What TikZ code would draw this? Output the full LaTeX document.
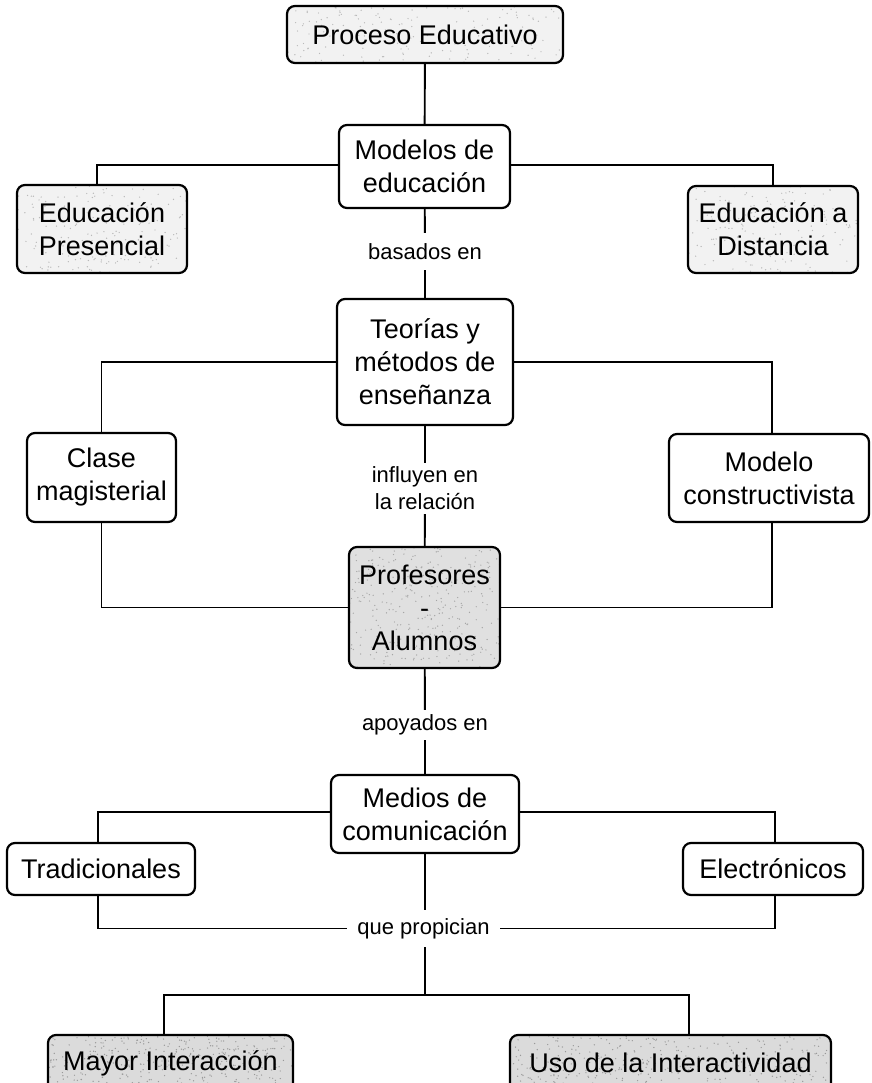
\documentclass[tikz,border=0pt]{standalone}
\usepackage{fontspec}
\setmainfont{Liberation Sans}
\usetikzlibrary{calc}
\begin{document}
\begin{tikzpicture}[x=1pt,y=-1pt,
  speckle/.style n args={2}{path picture={
    \foreach \k in {1,...,#1}{
      \pgfmathsetmacro\ux{rnd}\pgfmathsetmacro\uy{rnd}
      \coordinate (px) at ($(path picture bounding box.south west)!\ux!(path picture bounding box.south east)$);
      \coordinate (py) at ($(path picture bounding box.south west)!\uy!(path picture bounding box.north west)$);
      \fill[#2] (px |- py) circle (0.7pt);
    }}},
  box/.style={draw, line width=2.2pt, rounded corners=8pt, fill=white, align=center,
    font=\fontsize{27}{33}\selectfont, inner sep=0pt},
  light/.style={box, fill=gray!10, speckle={160}{gray!55}},
  mid/.style={box, fill=gray!24, speckle={320}{gray!70}},
  dark/.style={box, fill=gray!28, speckle={380}{gray!80}},
  lbl/.style={align=center, font=\fontsize{22}{27}\selectfont, inner sep=0pt},
  conn/.style={line width=1.9pt}]
\pgfmathsetseed{7}
\useasboundingbox (0,0) rectangle (871,1083);
% boxes
\node[light, minimum width=276pt, minimum height=57pt] (proc) at (425,34.5) {Proceso Educativo};
\node[box, minimum width=171pt, minimum height=83pt] (mod) at (424.5,166.5) {Modelos de\\educación};
\node[light, minimum width=170pt, minimum height=88pt] (pres) at (102,229) {Educación\\Presencial};
\node[light, minimum width=170pt, minimum height=87pt] (dist) at (773,229.5) {Educación a\\Distancia};
\node[box, minimum width=176pt, minimum height=126pt] (teo) at (425,362) {Teorías y\\métodos de\\enseñanza};
\node[box, minimum width=149pt, minimum height=89pt] (clase) at (101.5,477.5) {Clase\\magisterial};
\node[box, minimum width=200pt, minimum height=88pt] (constr) at (769,478) {Modelo\\constructivista};
\node[mid, minimum width=151pt, minimum height=121pt] (prof) at (424.5,607.5) {Profesores\\-\\Alumnos};
\node[box, minimum width=188pt, minimum height=78pt] (med) at (425,814) {Medios de\\comunicación};
\node[box, minimum width=188pt, minimum height=52pt] (trad) at (101,869) {Tradicionales};
\node[box, minimum width=180pt, minimum height=52pt] (elec) at (773,869) {Electrónicos};
\node[dark, minimum width=245pt, minimum height=56pt] (mayor) at (170.5,1063) {Mayor Interacción};
\node[dark, minimum width=321pt, minimum height=56pt] (uso) at (670.5,1063) {Uso de la Interactividad};
% labels
\node[lbl, minimum height=37pt] (bas) at (425,251.5) {basados en};
\node[lbl, minimum height=51pt] (infl) at (425,488.5) {influyen en\\la relación};
\node[lbl, minimum height=30pt] (apo) at (425,725) {apoyados en};
\node[lbl, minimum height=37pt, minimum width=153pt] (que) at (423.5,928.5) {que propician};
\coordinate (j) at (425,995);
% connectors
\draw[conn] (proc) -- (mod);
\draw[conn] ([yshift=1.5pt]mod.west) -| ([xshift=-5pt]pres.north);
\draw[conn] ([yshift=1.5pt]mod.east) -| (dist.north);
\draw[conn] (mod) -- (bas) -- (teo);
\draw[conn] (teo.west) -| (clase.north);
\draw[conn] (teo.east) -| ([xshift=3pt]constr.north);
\draw[conn] (clase.south) |- (prof.west);
\draw[conn] ([xshift=3pt]constr.south) |- (prof.east);
\draw[conn] (teo) -- (infl) -- (prof);
\draw[conn] (prof) -- (apo) -- (med);
\draw[conn] ([yshift=2pt]med.west) -| ([xshift=-3pt]trad.north);
\draw[conn] ([yshift=2pt]med.east) -| ([xshift=2pt]elec.north);
\draw[conn] ([xshift=-3pt]trad.south) |- (que.west);
\draw[conn] ([xshift=2pt]elec.south) |- (que.east);
\draw[conn] (med) -- (que.north -| med.south);
\draw[conn] (que.south -| j) -- (j);
\draw[conn] ([xshift=-6.5pt]mayor.north) |- (j) -| ([xshift=18.5pt]uso.north);
\end{tikzpicture}
\end{document}
